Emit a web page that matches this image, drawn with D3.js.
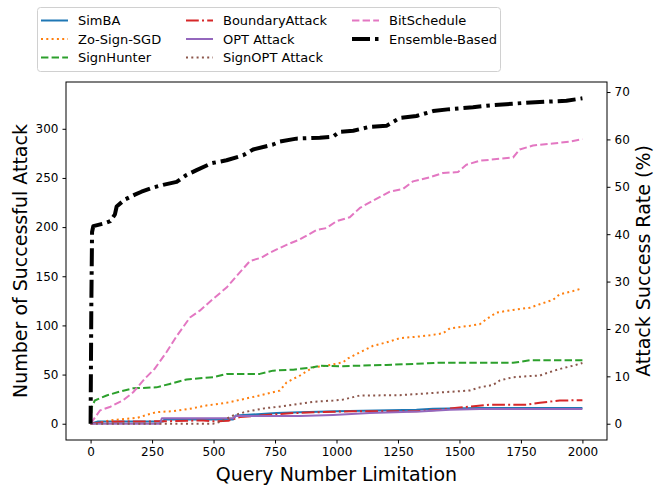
<!DOCTYPE html>
<html>
<head>
<meta charset="utf-8">
<script src="https://cdn.jsdelivr.net/npm/d3@7"></script>
<style>
  body { margin: 0; background: #fff; }
  svg text { font-family: "DejaVu Sans", sans-serif; fill: #000; }
</style>
</head>
<body>
<div class="chart-container"></div>
<script>
// values
var seriesNames = ['SimBA', 'Zo-Sign-SGD', 'SignHunter', 'BoundaryAttack', 'OPT Attack', 'SignOPT Attack', 'BitSchedule', 'Ensemble-Based'];

var simbaX = [0, 30, 295, 300, 580, 590, 756, 851, 1000, 1325, 1393, 1583, 2000];
var simbaY = [0, 2.3, 2.3, 4.4, 4.4, 8.4, 10.8, 11.8, 12.8, 14.2, 15.2, 16, 16];

var zoX = [0, 40, 78, 146, 190, 228, 268, 336, 404, 471, 553, 620, 688, 742, 770, 797, 851, 905, 959, 1027, 1047, 1095, 1149, 1203, 1257, 1339, 1379, 1433, 1461, 1542, 1583, 1610, 1650, 1718, 1786, 1827, 1880, 1908, 1962, 2000];
var zoY = [0, 1, 3.4, 5, 6, 9, 11.8, 12.8, 15.2, 18.6, 21.3, 25, 28.7, 32, 33.7, 42, 49, 57.4, 59, 62.5, 66.5, 72.6, 79.3, 82.7, 87, 88.8, 90, 92, 97, 99.6, 101.3, 106.4, 113, 115.8, 118, 121.6, 126, 131.7, 135, 137.8];

var hunterX = [0, 5, 17, 65, 119, 173, 268, 322, 390, 444, 498, 553, 688, 742, 824, 905, 932, 1013, 1203, 1325, 1420, 1718, 1786, 2000];
var hunterY = [0, 17, 23.6, 28.7, 32.7, 36, 37, 40.5, 45, 46.3, 47.3, 50.7, 50.7, 54, 55, 57.4, 59, 58.5, 59.8, 61, 62, 62, 64.5, 64.5];

var boundaryX = [0, 65, 300, 458, 500, 560, 607, 715, 824, 932, 1068, 1325, 1420, 1501, 1623, 1772, 1827, 1908, 2000];
var boundaryY = [0, 2, 2.5, 3.4, 2.5, 3, 6.8, 9, 10.8, 11.8, 12.8, 12.8, 14.2, 16.5, 19.3, 19.3, 21.3, 23.6, 24];

var optX = [0, 282, 290, 580, 590, 851, 986, 1135, 1339, 1461, 1583, 2000];
var optY = [0, 0, 5.7, 5.7, 7.8, 7.8, 9, 10.8, 12.5, 14.2, 15, 15];

var signoptX = [0, 498, 526, 580, 634, 715, 756, 824, 905, 986, 1027, 1095, 1257, 1339, 1433, 1542, 1583, 1637, 1664, 1718, 1772, 1827, 1853, 1908, 1962, 2000];
var signoptY = [0, 0, 1.7, 8.4, 12.3, 16, 17, 19.3, 22.3, 23.6, 24.6, 28.7, 29, 30.4, 32, 33.8, 37, 39.5, 44, 47.3, 48.3, 49, 51.4, 55.7, 59, 61.8];

var bitX = [0, 38, 78, 133, 173, 221, 261, 309, 350, 404, 444, 498, 553, 593, 648, 695, 729, 797, 851, 919, 959, 1000, 1054, 1095, 1149, 1217, 1271, 1311, 1379, 1433, 1494, 1528, 1583, 1664, 1718, 1745, 1799, 1880, 1948, 2000];
var bitY = [0, 13.5, 17, 24, 32, 46, 56, 73, 89, 108, 115, 127, 138.5, 150, 165.5, 169, 174, 182, 187.5, 197, 199, 206, 210, 219.5, 227, 236, 239, 246.5, 250.6, 255, 256, 263.4, 267.5, 269.5, 270.8, 279, 283, 285, 287, 289.5];

var ensembleX = [0, 0, 3, 6, 11, 58, 80, 99, 106, 139, 180, 207, 250, 295, 350, 390, 431, 492, 553, 620, 661, 742, 770, 837, 932, 986, 1013, 1068, 1135, 1203, 1257, 1325, 1393, 1461, 1555, 1610, 1691, 1772, 1853, 1935, 2000];
var ensembleY = [0, 0, 120, 195, 201, 204, 206, 213, 221, 228, 233, 236, 240, 243, 246, 253, 258, 265, 268, 273, 279, 284, 287, 290, 291, 292, 297, 298, 302, 303, 311, 313, 318, 320, 322, 323.5, 325, 326.5, 327.5, 328.5, 331];

var xTicks = [0, 250, 500, 750, 1000, 1250, 1500, 1750, 2000];
var leftTicks = [0, 50, 100, 150, 200, 250, 300];
var rightTicks = [0, 10, 20, 30, 40, 50, 60, 70];
var totalImages = 482; // rate (%) = count / total * 100

var seriesX = [simbaX, zoX, hunterX, boundaryX, optX, signoptX, bitX, ensembleX];
var seriesY = [simbaY, zoY, hunterY, boundaryY, optY, signoptY, bitY, ensembleY];

// styles (matplotlib tab10 + line styles)
var colors = ['#1f77b4', '#ff7f0e', '#2ca02c', '#d62728', '#9467bd', '#8c564b', '#e377c2', '#000000'];
var widths = [2, 2, 2, 2, 2, 2, 2, 4];
var dashes = ['none', '2,3.3', '7.4,3.2', '12.8,3.2,2,3.2', 'none', '2,3.3', '7.4,3.2', '18,5,3.5,5'];

var W = 655, H = 487;
var margin = { top: 82, right: 48, bottom: 47, left: 66 };
var plotW = W - margin.left - margin.right;
var plotH = H - margin.top - margin.bottom;

var svg = d3.select('.chart-container').append('svg')
  .attr('width', W)
  .attr('height', H);

var x = d3.scaleLinear().domain([-100, 2100]).range([0, plotW]);
var y = d3.scaleLinear().domain([-16.55, 347.6]).range([plotH, 0]);
var yRate = d3.scaleLinear()
  .domain([-16.55 / totalImages * 100, 347.6 / totalImages * 100])
  .range([plotH, 0]);

var g = svg.append('g')
  .attr('transform', 'translate(' + margin.left + ',' + margin.top + ')');

g.append('clipPath').attr('id', 'clip')
  .append('rect').attr('width', plotW).attr('height', plotH);

// lines
var line = d3.line()
  .x(function (d) { return x(d[0]); })
  .y(function (d) { return y(d[1]); });

seriesNames.forEach(function (name, i) {
  var pts = seriesX[i].map(function (v, j) { return [v, seriesY[i][j]]; });
  g.append('path')
    .datum(pts)
    .attr('clip-path', 'url(#clip)')
    .attr('fill', 'none')
    .attr('stroke', colors[i])
    .attr('stroke-width', widths[i])
    .attr('stroke-dasharray', dashes[i])
    .attr('stroke-linejoin', 'round')
    .attr('d', line);
});

// axes
function styleAxis(sel) {
  sel.selectAll('text').style('font-size', '12px').style('font-family', 'DejaVu Sans');
  sel.selectAll('.tick line').attr('stroke', '#000');
  sel.select('.domain').remove();
}

g.append('g')
  .attr('transform', 'translate(0,' + plotH + ')')
  .call(d3.axisBottom(x).tickValues(xTicks).tickFormat(d3.format('d')).tickSizeOuter(0).tickSize(3.5).tickPadding(4))
  .call(styleAxis);

g.append('g')
  .call(d3.axisLeft(y).tickValues(leftTicks).tickFormat(d3.format('d')).tickSizeOuter(0).tickSize(3.5).tickPadding(4))
  .call(styleAxis);

g.append('g')
  .attr('transform', 'translate(' + plotW + ',0)')
  .call(d3.axisRight(yRate).tickValues(rightTicks).tickFormat(d3.format('d')).tickSizeOuter(0).tickSize(3.5).tickPadding(4))
  .call(styleAxis);

g.append('rect')
  .attr('width', plotW)
  .attr('height', plotH)
  .attr('fill', 'none')
  .attr('stroke', '#000')
  .attr('stroke-width', 1);

// axis labels
svg.append('text')
  .attr('x', margin.left + plotW / 2)
  .attr('y', 481)
  .attr('text-anchor', 'middle')
  .style('font-size', '19px')
  .text('Query Number Limitation');

svg.append('text')
  .attr('transform', 'translate(27,' + (margin.top + plotH / 2) + ') rotate(-90)')
  .attr('text-anchor', 'middle')
  .style('font-size', '19px')
  .text('Number of Successful Attack');

svg.append('text')
  .attr('transform', 'translate(650,' + (margin.top + plotH / 2) + ') rotate(-90)')
  .attr('text-anchor', 'middle')
  .style('font-size', '19px')
  .text('Attack Success Rate (%)');

// legend
var legend = svg.append('g');
legend.append('rect')
  .attr('x', 37.5).attr('y', 7.5)
  .attr('width', 463).attr('height', 64)
  .attr('rx', 3)
  .attr('fill', '#fff').attr('fill-opacity', 0.8)
  .attr('stroke', '#d0d0d0');

var colX = [41, 186, 352];
var rowY = [20.5, 39, 57.5];

seriesNames.forEach(function (name, i) {
  var col = Math.floor(i / 3);
  var row = i % 3;
  var lx = colX[col];
  var ly = rowY[row];
  legend.append('line')
    .attr('x1', lx).attr('x2', lx + 27)
    .attr('y1', ly).attr('y2', ly)
    .attr('stroke', colors[i])
    .attr('stroke-width', widths[i])
    .attr('stroke-dasharray', dashes[i]);
  legend.append('text')
    .attr('x', lx + 37)
    .attr('y', ly)
    .attr('dy', '0.35em')
    .style('font-size', '13px')
    .text(name);
});
</script>
</body>
</html>
